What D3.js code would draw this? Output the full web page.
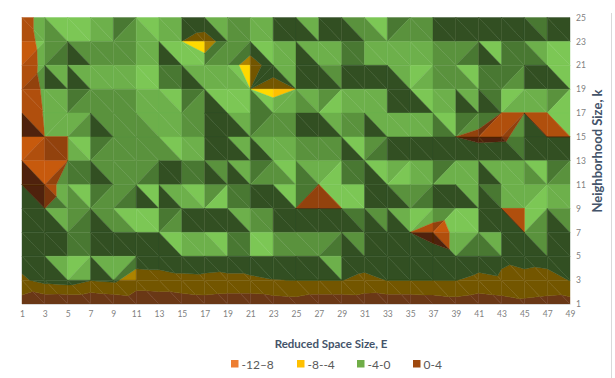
<!DOCTYPE html>
<html>
<head>
<meta charset="utf-8">
<script src="https://cdn.jsdelivr.net/npm/d3@7"></script>
<style>
    html, body { margin: 0; padding: 0; background: #fff; }
    svg { display: block; }
    text { font-family: Lato, "Open Sans", sans-serif; }
</style>
</head>
<body>
<div id="chart"></div>
<script>
// surface top view, E across and k down
const reducedSpace = [1,3,5,7,9,11,13,15,17,19,21,23,25,27,29,31,33,35,37,39,41,43,45,47,49];
const neighborhood = [25,23,21,19,17,15,13,11,9,7,5,3,1];

const legendLabels = ["-12–8", "-8--4", "-4-0", "0-4"];
const bandEdges = [-12, -8, -4, 0, 4];

// values, one row per k (25 first)
const k25 = [2,-2,-1.5,-2,-2.5,-1.5,-2,-.5,-1,-2,-1.5,-3,-1.5,-3,-2,-1.5,-2.5,-2,-3,-3,-3,-3,-3,-2.5,-3];
const k23 = [2.8,-2,-2,-2.5,-2,-2,-1.5,-4,-6,-2,-1.2,-2,-2,-1.5,-2,-2.5,-2,-2,-2,-2.5,-1.5,-2,-2,-1.5,-1.5];
const k21 = [3.8,-1.8,-2,-2,-2,-1.5,-1.5,-2,-2,-2,-6,-2,-2,-2.5,-2,-2,-2,-1.5,-2,-2,-2.5,-2.5,-2,-2,-1.5];
const k19 = [3.6,-.9,-2,-2,-2.5,-2,-1.5,-2.5,-2,-1.5,-4,-6,-4,-1.5,-2,-2,-2,-2,-1.5,-2,-2.5,-2,-1.5,-2,-2];
const k17 = [3.6,-.4,-2,-2,-2,-2,-1.5,-2,-2,-2,-2,-.5,-2,-2,-2,-2,-2,-1.5,-2,-2.5,-1.3,.01,.01,.01,-2];
const k15 = [3,.01,.01,-2,-2,-2,-1.5,-2,-2.5,-2,-2,-2,-2,-2,-2,-2,-2.5,-2.5,-2,.01,.6,.5,-1,.01,.01];
const k13 = [3,2,.01,-2,-2,-2,-2.5,-2,-2,-2,-2,-1.5,-2,-1.5,-2,-1.5,-1.5,-2,-2,-2,-1.8,-2,-2,-2,-2];
const k11 = [.01,2,-2,-2.5,-2,-2,-2.5,-2,-2,-2,-2.5,-2,-1.5,.01,-1,-2,-2.5,-2,-2,-2,-2.5,-2,-1.5,-1.5,-2];
const k9 = [-2,.01,-2,-2,-2,-2,-2.5,-2.5,-2.5,-2,-2,-2.5,.01,.01,.01,-2.5,-2,-1.5,-3,-2,-2.5,.01,.01,-2,-2];
const k7 = [-3,-3,-2,-3,-2.5,-2,-2.5,-2,-3,-2,-2,-3,-3,-3,-3,-2.5,-2.5,.01,2,-.8,-2,-2.5,.01,-1.5,-2.5];
const k5 = [-2.05,-1,-1.5,-2,-1.5,-1.76,-1.75,-1.8,-2.3,-1.8,-.6,-1,-1.5,-1,-1.5,-2.1,-2,-2.5,-2.3,-.8,-2.1,-3.55,-3.1,-2.8,-2];
const k3 = [-4.7,-2.6,-2,-3.8,-3.3,-6,-5.7,-4.9,-4.7,-4.9,-4.9,-4.1,-3.9,-3.9,-3.9,-4.9,-3.9,-3.9,-3.9,-3.9,-4.9,-4.4,-4.8,-5.1,-3.9];
const k1 = [-10,-11.7,-11.9,-11.9,-11.2,-10.5,-10.5,-10.5,-10,-10.5,-10.5,-10.2,-9.8,-10.8,-10.8,-10.5,-10.8,-10.8,-10.5,-9.8,-10.5,-10,-9,-9.5,-9.8];
const surface = [k25,k23,k21,k19,k17,k15,k13,k11,k9,k7,k5,k3,k1];

// light level of the two facets in each cell, 0 darkest to 4 lightest.
// "43" = cut \ (upper right, lower left), "/43" = cut / (upper left, lower right)
const facets = [
    ["33","42","44","33","/12","43","33","00","30","22","33","00","30","00","20","42","/12","22","00","00","00","00","10","00"],
    ["/43","/21","20","22","22","33","40","44","/12","/21","40","33","30","33","11","33","33","33","22","/21","40","11","31","44"],
    ["/32","30","30","33","33","44","11","30","33","43","/00","30","00","20","00","00","30","/43","22","42","11","/12","00","40"],
    ["33","33","/12","22","22","33","43","/12","40","44","41","/33","32","/24","33","33","00","40","33","30","10","/43","33","/24"],
    ["30","/33","/32","20","22","32","33","22","00","30","/12","22","00","30","22","30","33","33","41","/12","/13","/32","30","43"],
    ["/43","22","43","/12","22","22","42","33","00","30","30","33","22","22","40","/21","00","00","00","00","00","10","00","00"],
    ["40","/42","11","20","22","/21","00","11","20","30","/12","42","31","/34","11","40","/34","33","/13","33","30","33","42","/12"],
    ["00","31","42","/12","/21","40","30","43","/24","11","00","40","/12","42","44","00","20","/21","00","30","10","33","/34","33"],
    ["00","30","/21","20","42","44","/12","00","00","30","22","00","00","00","10","20","30","/43","/24","44","00","30","/42","20"],
    ["00","00","11","00","00","00","40","33","43","11","44","22","22","/21","20","00","00","00","30","/31","31","00","20","00"],
    ["00","30","/43","30","/31","00","00","00","00","00","00","00","00","30","00","00","00","00","00","00","00","00","00","00"],
    ["00","00","00","00","00","00","00","00","00","00","00","00","00","00","00","00","00","00","00","00","00","00","00","00"]
];

const legendColors = ["#ed7d31", "#ffc000", "#70ad47", "#9e480e"];
const surfaceColors = ["#ed7d31", "#ffc000", "#6db04b", "#b0500f"];
const toneFactors = [0.45, 0.68, 0.83, 1, 1.13];

const width = 615;
const height = 378;

const svg = d3.select("#chart").append("svg")
    .attr("width", width)
    .attr("height", height);

svg.append("defs").append("filter")
    .attr("id", "soft")
    .append("feGaussianBlur")
    .attr("stdDeviation", 0.45);

const x = d3.scalePoint().domain(reducedSpace).range([22, 570]);
const y = d3.scalePoint().domain(neighborhood).range([17.5, 304]);

function shade(color, tone) {
    const c = d3.rgb(color);
    const f = toneFactors[tone];
    return d3.rgb(c.r * f, c.g * f, c.b * f).formatHex();
}

// keep the part of a triangle whose height lies between lo and hi
function clipBand(points, lo, hi) {
    const cut = (pts, keep, level) => {
        const out = [];
        pts.forEach((p, i) => {
            const q = pts[(i + 1) % pts.length];
            if (keep(p[2])) out.push(p);
            if (keep(p[2]) !== keep(q[2])) {
                const t = (level - p[2]) / (q[2] - p[2]);
                out.push([p[0] + (q[0] - p[0]) * t, p[1] + (q[1] - p[1]) * t, level]);
            }
        });
        return out;
    };
    const above = cut(points, z => z >= lo, lo);
    return above.length ? cut(above, z => z <= hi, hi) : [];
}

const polys = [];
facets.forEach((row, j) => {
    row.forEach((code, i) => {
        const corner = (a, b) => [x(reducedSpace[a]), y(neighborhood[b]), surface[b][a]];
        const tl = corner(i, j), tr = corner(i + 1, j), bl = corner(i, j + 1), br = corner(i + 1, j + 1);
        const flipped = code[0] === "/";
        const tones = code.replace("/", "").split("").map(Number);
        const tris = flipped
            ? [[tl, tr, bl], [tr, br, bl]]
            : [[tl, tr, br], [tl, bl, br]];
        tris.forEach((tri, t) => {
            surfaceColors.forEach((color, b) => {
                const clipped = clipBand(tri, bandEdges[b], bandEdges[b + 1]);
                if (clipped.length > 2) {
                    polys.push({ points: clipped, fill: shade(color, tones[t]) });
                }
            });
        });
    });
});

svg.append("g")
    .attr("filter", "url(#soft)")
    .selectAll("polygon")
    .data(polys)
    .enter()
    .append("polygon")
    .attr("points", d => d.points.map(p => `${p[0]},${p[1]}`).join(" "))
    .attr("fill", d => d.fill)
    .attr("stroke", d => d.fill)
    .attr("stroke-width", 0.4);

// axes
const xAxis = svg.append("g")
    .attr("transform", "translate(0,304)")
    .call(d3.axisBottom(x).tickSize(0).tickPadding(7));
xAxis.select(".domain").attr("stroke", "#d9d9d9");
xAxis.selectAll("text")
    .attr("fill", "#7f7f7f")
    .style("font-size", "8.5px");

const yAxis = svg.append("g")
    .attr("transform", "translate(570,0)")
    .call(d3.axisRight(y).tickSize(0).tickPadding(6));
yAxis.select(".domain").remove();
yAxis.selectAll("text")
    .attr("fill", "#7f7f7f")
    .style("font-size", "8.5px");

svg.append("line")
    .attr("x1", 611.5).attr("x2", 611.5)
    .attr("y1", 13).attr("y2", height)
    .attr("stroke", "#d9d9d9");

svg.append("text")
    .attr("x", 331)
    .attr("y", 348)
    .attr("text-anchor", "middle")
    .attr("fill", "#44546a")
    .style("font-size", "11.5px")
    .style("font-weight", "bold")
    .text("Reduced Space Size, E");

svg.append("text")
    .attr("transform", "translate(602,151) rotate(-90)")
    .attr("text-anchor", "middle")
    .attr("fill", "#44546a")
    .style("font-size", "13px")
    .style("font-weight", "bold")
    .text("Neighborhood Size, k");

// legend
const legendX = [231, 297, 357, 413];
const legend = svg.append("g")
    .selectAll("g")
    .data(legendLabels)
    .enter()
    .append("g")
    .attr("transform", (d, i) => `translate(${legendX[i]},360)`);

legend.append("rect")
    .attr("width", 7.5)
    .attr("height", 7.5)
    .attr("fill", (d, i) => legendColors[i]);

legend.append("text")
    .attr("x", 10.5)
    .attr("y", 8.5)
    .attr("fill", "#595959")
    .style("font-size", "12px")
    .text(d => d);
</script>
</body>
</html>
